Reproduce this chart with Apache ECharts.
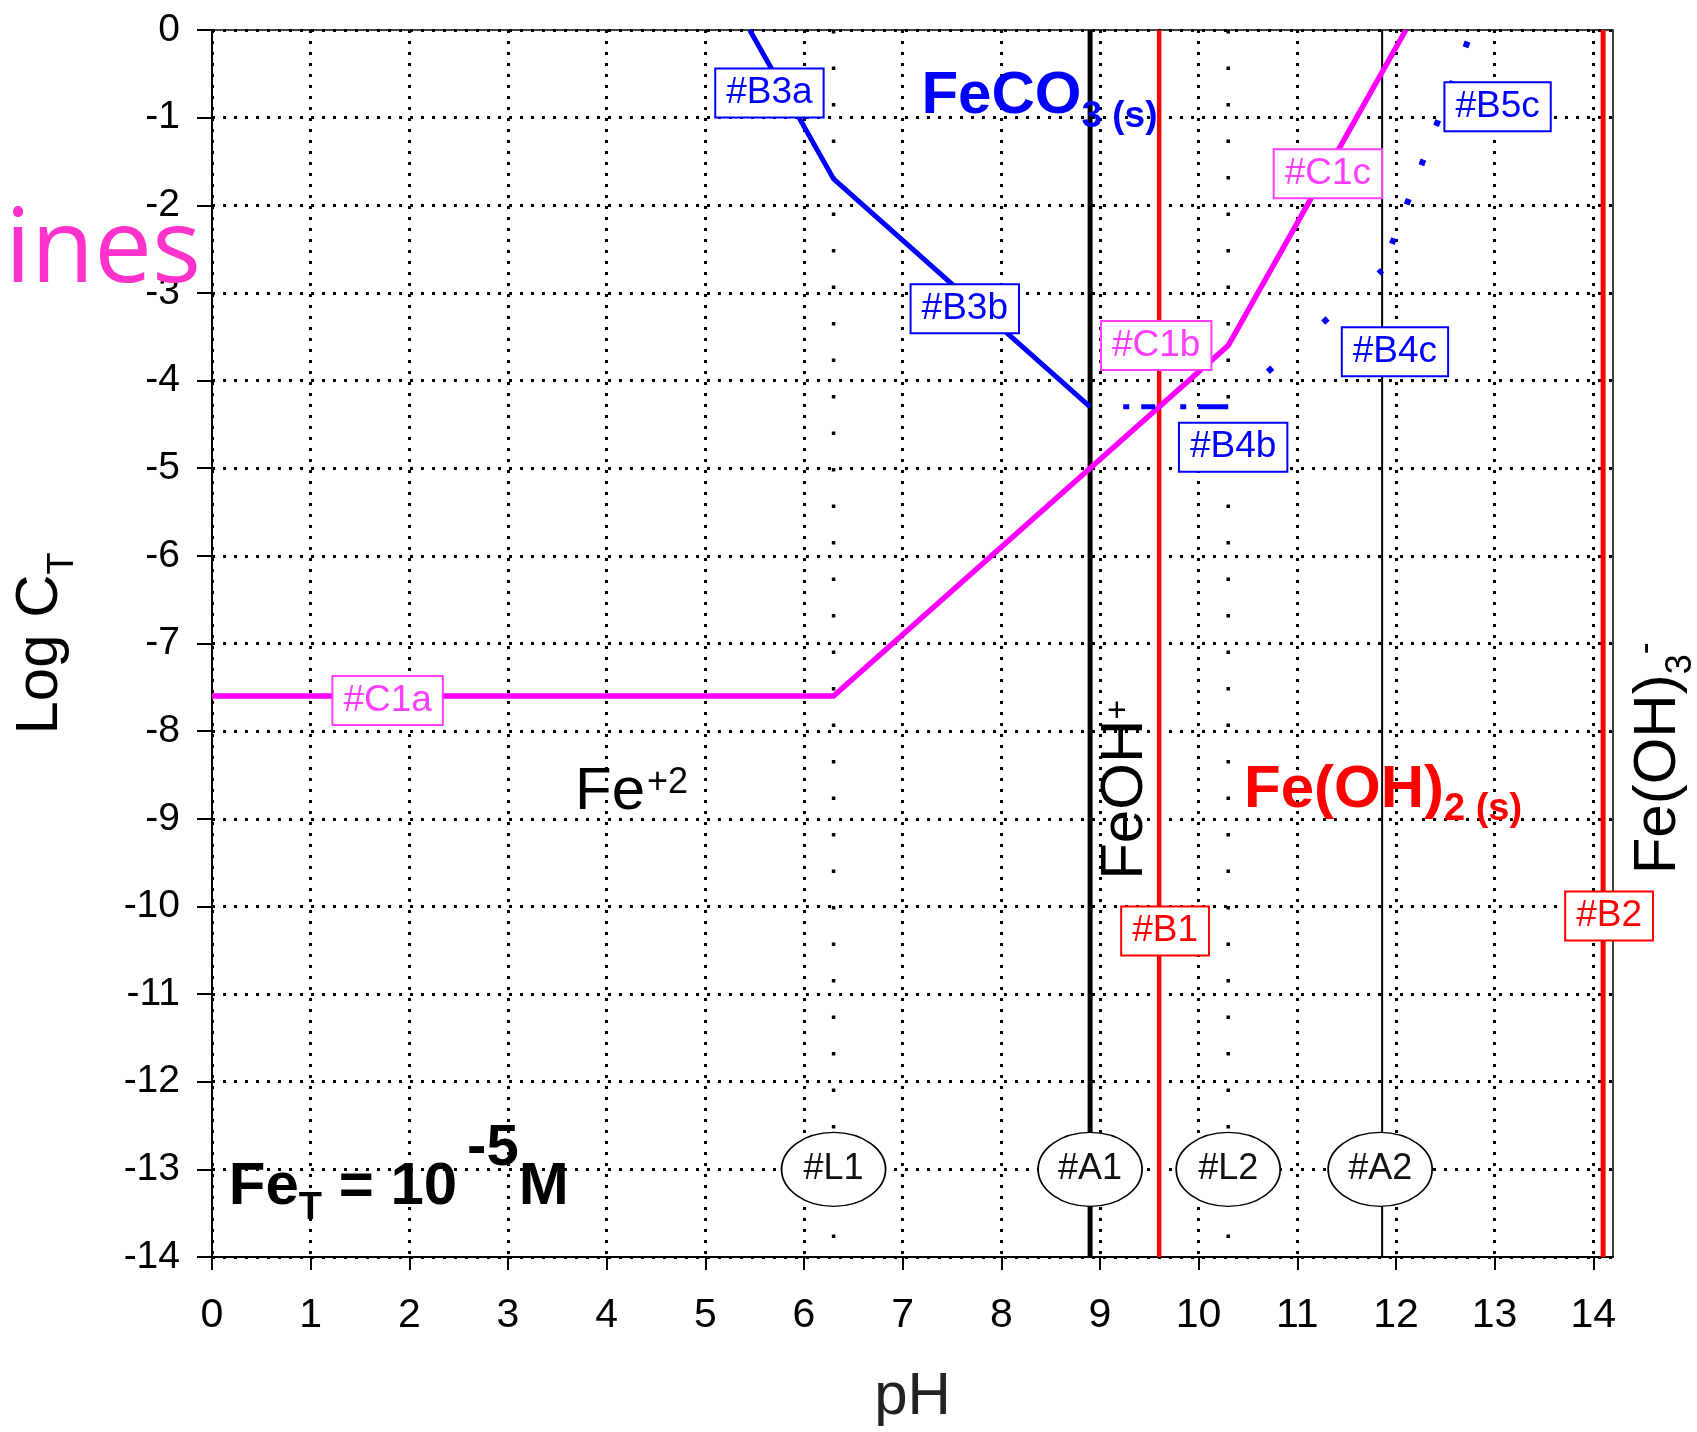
<!DOCTYPE html>
<html><head><meta charset="utf-8">
<script src="https://cdn.jsdelivr.net/npm/echarts@6/dist/echarts.min.js"></script>
<style>html,body{margin:0;padding:0;background:#fff}#c{width:1697px;height:1432px}</style>
</head><body><div id="c"></div>
<script>
// ---------- data ----------
const xTicks = [0,1,2,3,4,5,6,7,8,9,10,11,12,13,14];
const yRange = [-14, 0];
const lineC1 = [[0,-7.6],[6.3,-7.6],[10.3,-3.6],[12.1,0]];
const lineB3 = [[5.45,0],[6.3,-1.7],[8.9,-4.3]];
const lineB4b = [[10.3,-4.3],[8.9,-4.3]];
const lineB4c = [[10.3,-4.3],[11.86,-2.74]];
const lineB5c = [[11.86,-2.74],[12.77,0]];
const pHL1 = 6.3, pHL2 = 10.3, pHA1 = 8.9, pHA2 = 11.86, pHB1 = 9.6, pHB2 = 14.1;
const boxNames = ['#B3a','#B3b','#C1a','#C1b','#C1c','#B4b','#B4c','#B5c','#B1','#B2'];
const boxPH    = [5.65, 7.63, 1.78, 9.57, 11.31, 10.35, 11.99, 13.03, 9.66, 14.16];
const boxLogC  = [-0.72, -3.18, -7.65, -3.60, -1.64, -4.76, -3.67, -0.875, -10.28, -10.11];
const circleNames = ['#L1','#A1','#L2','#A2'];
const circlePH = [6.3, 8.9, 10.3, 11.84];
const circleLogC = -13;

// ---------- styles ----------
const FF = '"Liberation Sans", Arial, Helvetica, sans-serif';
const BLUE = '#0000FF', RED = '#FF0000', MAG = '#FF00FF', MAGT = '#FF3DFF';
function boxColor(n){ return n[1]==='C' ? MAGT : (n==='#B1'||n==='#B2') ? RED : BLUE; }
function vline(x){ return [[x, yRange[1]],[x, yRange[0]]]; }
function lineSeries(data, color, width, type, offset){
  return {type:'line', data:data, symbol:'none', silent:true, clip:false, z:3,
    lineStyle:{color:color, width:width, type:type||'solid', dashOffset:offset||0, cap:'butt', join:'miter', opacity:1}};
}

const chart = echarts.init(document.getElementById('c'), null, {renderer:'canvas'});

const boxData = boxNames.map((n,i)=>({
  value:[boxPH[i], boxLogC[i]],
  label:{show:true, position:'inside', formatter:n, color:boxColor(n), fontSize:37, lineHeight:41,
    fontFamily:FF, backgroundColor:'#fff', borderColor:boxColor(n), borderWidth:2, padding:[3,10]}
}));
const circleData = circleNames.map((n,i)=>({value:[circlePH[i], circleLogC], name:n}));

const annotations = [
  { value:[7.19,-0.855], label:{ formatter:'{m|FeCO}{s|3 (s)}', align:'left', verticalAlign:'middle',
      rich:{ m:{fontSize:60, lineHeight:60, fontWeight:'bold', color:BLUE, fontFamily:FF, verticalAlign:'bottom', padding:[0,0,8,0]},
             s:{fontSize:37, lineHeight:37, fontWeight:'bold', color:BLUE, fontFamily:FF, verticalAlign:'bottom'} } } },
  { value:[10.46,-8.77], label:{ formatter:'{m|Fe(OH)}{s|2 (s)}', align:'left', verticalAlign:'middle',
      rich:{ m:{fontSize:60, lineHeight:60, fontWeight:'bold', color:RED, fontFamily:FF, verticalAlign:'bottom', padding:[0,0,8,0]},
             s:{fontSize:38, lineHeight:38, fontWeight:'bold', color:RED, fontFamily:FF, verticalAlign:'bottom'} } } },
  { value:[3.68,-8.70], label:{ formatter:'{m|Fe}{p|+2}', align:'left', verticalAlign:'middle',
      rich:{ m:{fontSize:60, lineHeight:60, color:'#000', fontFamily:FF, verticalAlign:'top'},
             p:{fontSize:36, lineHeight:36, color:'#000', fontFamily:FF, verticalAlign:'top', padding:[3,0,0,2]} } } },
  { value:[9.26,-8.67], label:{ formatter:'{m|FeOH}{p|+}', rotate:90, align:'center', verticalAlign:'middle',
      rich:{ m:{fontSize:60, lineHeight:60, color:'#000', fontFamily:FF, verticalAlign:'top'},
             p:{fontSize:34, lineHeight:34, color:'#000', fontFamily:FF, verticalAlign:'top', padding:[6,0,0,0]} } } },
  { value:[14.66,-8.31], label:{ formatter:'{m|Fe(OH)}{s|3}{p|-}', rotate:90, align:'center', verticalAlign:'middle',
      rich:{ m:{fontSize:60, lineHeight:60, color:'#000', fontFamily:FF, verticalAlign:'top'},
             s:{fontSize:36, lineHeight:36, color:'#000', fontFamily:FF, verticalAlign:'top', padding:[35,0,0,0]},
             p:{fontSize:36, lineHeight:36, color:'#000', fontFamily:FF, verticalAlign:'top'} } } },
  { value:[0.17,-13.38], label:{ formatter:'{m|Fe}{t|T}{m| = 10}{e|-5}{m|M}', align:'left', verticalAlign:'middle',
      rich:{ m:{fontSize:60, lineHeight:60, fontWeight:'bold', color:'#000', fontFamily:FF, verticalAlign:'bottom', padding:[0,0,15,0]},
             t:{fontSize:38, lineHeight:38, fontWeight:'bold', color:'#000', fontFamily:FF, verticalAlign:'bottom', padding:[0,0,5,0]},
             e:{fontSize:58, lineHeight:58, fontWeight:'bold', color:'#000', fontFamily:FF, verticalAlign:'bottom', padding:[0,0,55,10]} } } }
];
annotations.forEach(a=>{ a.label.show = true; a.label.position = 'inside'; });

chart.setOption({
  animation:false,
  backgroundColor:'#fff',
  title:{ text:'ines', left:5, top:201, padding:0,
    textStyle:{fontFamily:'"Open Sans", sans-serif', fontSize:103, lineHeight:103, fontWeight:'normal', color:'#FF33CC'} },
  grid:{ left:212, right:84, top:30, bottom:170, show:true, borderColor:'#000', borderWidth:1.5, backgroundColor:'transparent' },
  xAxis:{ type:'value', min:0, max:14.2, interval:1,
    name:'pH', nameLocation:'middle', nameGap:110,
    nameTextStyle:{fontSize:60, lineHeight:60, color:'#222', fontFamily:FF},
    axisLine:{show:true, onZero:false, lineStyle:{color:'#000', width:2}},
    axisTick:{show:true, inside:false, length:13, lineStyle:{color:'#000', width:2}, customValues:xTicks},
    axisLabel:{show:true, customValues:xTicks, margin:38, fontSize:41, lineHeight:41, color:'#000', fontFamily:FF},
    splitLine:{show:true, lineStyle:{color:'#000', width:3, type:[3,8]}} },
  yAxis:{ type:'value', min:yRange[0], max:yRange[1], interval:1,
    name:'{m|Log C}{s|T}', nameLocation:'middle', nameRotate:90, nameGap:142,
    nameTextStyle:{ rich:{ m:{fontSize:60, lineHeight:60, color:'#000', fontFamily:FF, verticalAlign:'top'},
                           s:{fontSize:36, lineHeight:36, color:'#000', fontFamily:FF, verticalAlign:'top', padding:[35,0,0,0]} } },
    axisLine:{show:true, onZero:false, lineStyle:{color:'#000', width:2}},
    axisTick:{show:true, inside:false, length:15, lineStyle:{color:'#000', width:2}},
    axisLabel:{show:true, margin:32, fontSize:39, color:'#000', fontFamily:FF},
    splitLine:{show:true, lineStyle:{color:'#000', width:3, type:[3,8]}} },
  series:[
    lineSeries(vline(pHL1), '#000', 3.5, [3.5,33]),
    lineSeries(vline(pHL2), '#000', 3.5, [3.5,33]),
    lineSeries(vline(pHA1), '#000', 5),
    lineSeries(vline(pHA2), '#000', 2),
    lineSeries(vline(pHB1), RED, 4.5),
    lineSeries(vline(pHB2), RED, 5),
    lineSeries(lineC1, MAG, 5.5),
    lineSeries(lineB3, BLUE, 5),
    lineSeries(lineB4b, BLUE, 5, [30,12,6,25,14,12,6,80]),
    lineSeries(lineB4c, BLUE, 6, [6,68], 21),
    lineSeries(lineB5c, BLUE, 6, [6,36], 14),
    { type:'scatter', data:circleData, silent:true, clip:false, z:5,
      symbol:'path://M0,50 A50,50 0 1 1 100,50 A50,50 0 1 1 0,50 Z', symbolSize:[104,74], symbolKeepAspect:false,
      itemStyle:{color:'#fff', borderColor:'#000', borderWidth:1.5, opacity:1},
      label:{show:true, position:'inside', formatter:p=>p.name, fontSize:36, color:'#111', fontFamily:FF} },
    { type:'scatter', data:boxData, silent:true, clip:false, z:6, symbolSize:1,
      itemStyle:{color:'#fff', opacity:1} },
    { type:'scatter', data:annotations, silent:true, clip:false, z:7, symbolSize:1,
      itemStyle:{color:'#fff', opacity:1} }
  ]
});
</script></body></html>
